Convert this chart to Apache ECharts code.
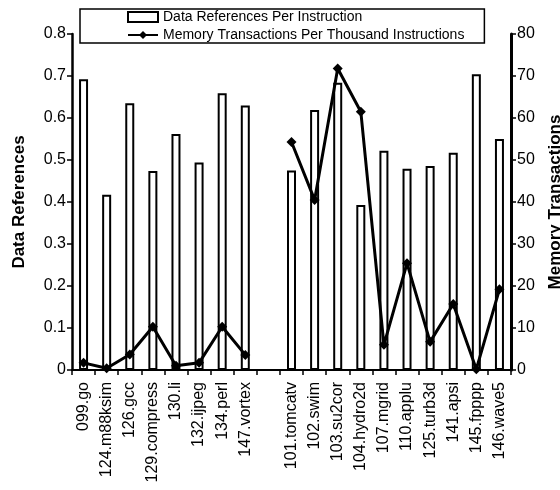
<!DOCTYPE html>
<html>
<head>
<meta charset="utf-8">
<script src="https://cdn.jsdelivr.net/npm/echarts@6/dist/echarts.min.js"></script>
<style>
  html, body { margin: 0; padding: 0; background: #fff; }
  #chart { width: 560px; height: 490px; }
</style>
</head>
<body>
<div id="chart"></div>
<script>
// Benchmarks: integer programs, a blank spacer slot, then floating-point programs
const benchmarks = [
  '099.go', '124.m88ksim', '126.gcc', '129.compress', '130.li', '132.ijpeg', '134.perl', '147.vortex',
  '',
  '101.tomcatv', '102.swim', '103.su2cor', '104.hydro2d', '107.mgrid', '110.applu', '125.turb3d',
  '141.apsi', '145.fpppp', '146.wave5'
];

// Data references per instruction (left axis)
const dataRefs = [
  0.692, 0.417, 0.635, 0.474, 0.562, 0.494, 0.659, 0.630,
  null,
  0.475, 0.619, 0.684, 0.393, 0.522, 0.479, 0.486, 0.517, 0.704, 0.550
];

// Memory transactions per thousand instructions (right axis)
const memTrans = [
  1.7, 0.4, 3.7, 10.3, 1.0, 1.7, 10.3, 3.6,
  null,
  54.3, 40.5, 71.8, 61.5, 6.0, 25.4, 6.7, 15.7, 0.2, 19.2
];

const leftTicks = [0, 0.1, 0.2, 0.3, 0.4, 0.5, 0.6, 0.7, 0.8];
const rightTicks = [0, 10, 20, 30, 40, 50, 60, 70, 80];

const FONT = '"Liberation Sans", Arial, sans-serif';

const chart = echarts.init(document.getElementById('chart'), null, { renderer: 'canvas' });

chart.setOption({
  animation: false,
  backgroundColor: '#fff',
  textStyle: { fontFamily: FONT, color: '#000' },
  legend: {
    orient: 'vertical',
    left: 80,
    top: 9,
    padding: [1, 20, 1, 47],
    itemGap: 4,
    itemWidth: 30,
    itemHeight: 10,
    backgroundColor: '#fff',
    borderColor: '#000',
    borderWidth: 1.5,
    textStyle: { fontFamily: FONT, fontSize: 14, color: '#000' },
    data: [
      { name: 'Data References Per Instruction', icon: 'rect' },
      { name: 'Memory Transactions Per Thousand Instructions' }
    ],
    z: 10
  },
  grid: {
    left: 72, right: 49, top: 34, bottom: 120,
    containLabel: false,
    outerBoundsMode: 'none'
  },
  xAxis: {
    type: 'category',
    data: benchmarks,
    boundaryGap: true,
    axisLine: { lineStyle: { color: '#000', width: 2 } },
    axisTick: { show: true, interval: 0, length: 5, lineStyle: { color: '#000', width: 1.5 } },
    axisLabel: {
      interval: 0,
      rotate: 90,
      margin: 12,
      fontFamily: FONT,
      fontSize: 16,
      color: '#000'
    },
    splitLine: { show: false }
  },
  yAxis: [
    {
      type: 'value',
      min: leftTicks[0],
      max: leftTicks[leftTicks.length - 1],
      interval: 0.1,
      name: 'Data References',
      nameLocation: 'middle',
      nameRotate: 90,
      nameGap: 44,
      nameTextStyle: { fontFamily: FONT, fontSize: 17, fontWeight: 'bold', color: '#000' },
      axisLine: { show: true, lineStyle: { color: '#000', width: 2.5 } },
      axisTick: { show: true, length: 5, lineStyle: { color: '#000', width: 1.5 } },
      axisLabel: {
        fontFamily: FONT,
        fontSize: 16,
        color: '#000',
        margin: 6,
        formatter: v => (v === 0 ? '0' : v.toFixed(1))
      },
      splitLine: { show: false }
    },
    {
      type: 'value',
      min: rightTicks[0],
      max: rightTicks[rightTicks.length - 1],
      interval: 10,
      position: 'right',
      name: 'Memory Transactions',
      nameLocation: 'middle',
      nameRotate: 90,
      nameGap: 36,
      nameTextStyle: { fontFamily: FONT, fontSize: 17, fontWeight: 'bold', color: '#000' },
      axisLine: { show: true, lineStyle: { color: '#000', width: 3 } },
      axisTick: { show: true, length: 5, lineStyle: { color: '#000', width: 1.5 } },
      axisLabel: { fontFamily: FONT, fontSize: 16, color: '#000', margin: 6 },
      splitLine: { show: false }
    }
  ],
  series: [
    {
      name: 'Data References Per Instruction',
      type: 'bar',
      yAxisIndex: 0,
      data: dataRefs,
      barWidth: 9,
      itemStyle: { color: '#fff', borderColor: '#000', borderWidth: 2 },
      z: 2
    },
    {
      name: 'Memory Transactions Per Thousand Instructions',
      type: 'line',
      yAxisIndex: 1,
      data: memTrans,
      connectNulls: false,
      symbol: 'diamond',
      symbolSize: 10,
      lineStyle: { color: '#000', width: 3 },
      itemStyle: { color: '#000' },
      z: 3
    }
  ]
});
</script>
</body>
</html>
